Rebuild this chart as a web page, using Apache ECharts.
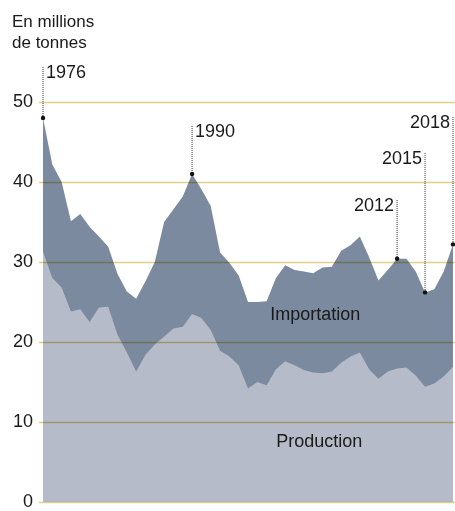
<!DOCTYPE html>
<html><head><meta charset="utf-8">
<script src="https://cdn.jsdelivr.net/npm/echarts@6/dist/echarts.min.js"></script>
<style>html,body{margin:0;padding:0;background:#fff}#c{width:455px;height:511px}</style>
</head><body><div id="c"></div>
<script>
// Data (millions of tonnes), one point per year
const years = [];
for (let y = 1974; y <= 2018; y++) years.push(String(y));
const total = [48.0, 42.2, 40.0, 35.1, 36.0, 34.4, 33.2, 31.9, 28.5, 26.3,
  25.4, 27.6, 30.0, 35.0, 36.6, 38.2, 41.0, 39.1, 37.0, 31.2,
  29.9, 28.3, 25.0, 25.0, 25.1, 28.0, 29.6, 29.0, 28.8, 28.6,
  29.3, 29.4, 31.4, 32.1, 33.2, 30.6, 27.7, 29.0, 30.4, 30.4,
  28.8, 26.2, 26.6, 28.8, 32.2];
const production = [31.3, 28.0, 26.8, 23.8, 24.1, 22.5, 24.3, 24.4, 20.9, 18.7,
  16.3, 18.4, 19.7, 20.7, 21.7, 21.9, 23.5, 23.0, 21.5, 18.9,
  18.2, 17.1, 14.2, 15.0, 14.6, 16.6, 17.6, 17.1, 16.5, 16.2,
  16.1, 16.3, 17.4, 18.2, 18.7, 16.6, 15.4, 16.3, 16.7, 16.8,
  15.8, 14.4, 14.8, 15.7, 16.9];
const yTicks = [0, 10, 20, 30, 40, 50];
const annotIndex = [0, 16, 38, 41, 44];
const annotLabels = ['1976', '1990', '2012', '2015', '2018'];
const areaLabels = ['Importation', 'Production'];

// Layout (pixels)
const annotTop = [67, 126, 200, 153, 117];
const annotSide = ['right', 'right', 'left', 'left', 'left'];
const FONT = "'Liberation Sans', Arial, sans-serif";

const chart = echarts.init(document.getElementById('c'));
chart.setOption({
  animation: false,
  grid: { left: 43, right: 2, top: 102, bottom: 7 },
  xAxis: {
    type: 'category', data: years, boundaryGap: false,
    axisLine: { show: false }, axisTick: { show: false }, axisLabel: { show: false },
    splitLine: { show: false }
  },
  yAxis: {
    type: 'value', min: yTicks[0], max: yTicks[yTicks.length - 1], interval: 10,
    axisLine: { show: false }, axisTick: { show: false },
    axisLabel: { color: '#1a1a1a', fontSize: 18, fontFamily: FONT, margin: 10 },
    splitLine: { show: false }
  },
  series: [
    { type: 'line', data: total, symbol: 'none', lineStyle: { width: 0 },
      areaStyle: { color: '#7b8a9e', opacity: 1 }, z: 2 },
    { type: 'line', data: production, symbol: 'none', lineStyle: { width: 0 },
      areaStyle: { color: '#b5bbc9', opacity: 1 }, z: 3 }
  ]
});

const g = [];
// gridlines drawn over the areas with a multiply blend
yTicks.forEach(v => {
  const py = Math.round(chart.convertToPixel({ yAxisIndex: 0 }, v)) + 0.5;
  g.push({ type: 'line', z: 15, silent: true,
    shape: { x1: 39, y1: py, x2: 455, y2: py },
    style: { stroke: '#e0d08c', lineWidth: 1.5, blend: 'multiply' } });
});
g.push({ type: 'text', left: 12, top: 12, z: 20,
  style: { text: 'En millions\nde tonnes', font: '17px ' + FONT, fill: '#1a1a1a', lineHeight: 21 } });
annotIndex.forEach((idx, k) => {
  const p = chart.convertToPixel({ xAxisIndex: 0, yAxisIndex: 0 }, [idx, total[idx]]);
  const top = annotTop[k];
  g.push({ type: 'line', z: 20, silent: true,
    shape: { x1: p[0], y1: top, x2: p[0], y2: p[1] },
    style: { stroke: '#333', lineWidth: 1, lineDash: [1, 1] } });
  g.push({ type: 'circle', z: 21, shape: { cx: p[0], cy: p[1], r: 2.2 }, style: { fill: '#111' } });
  const right = annotSide[k] === 'right';
  g.push({ type: 'text', z: 21, x: right ? p[0] + 3 : p[0] - 3, y: top - 3,
    style: { text: annotLabels[k], font: '18px ' + FONT, fill: '#1a1a1a',
      align: right ? 'left' : 'right', verticalAlign: 'top' } });
});
const lp1 = chart.convertToPixel({ xAxisIndex: 0, yAxisIndex: 0 }, [29, 23.4]);
const lp2 = chart.convertToPixel({ xAxisIndex: 0, yAxisIndex: 0 }, [29, 7.5]);
g.push({ type: 'text', z: 21, x: lp1[0] + 2, y: lp1[1],
  style: { text: areaLabels[0], font: '18px ' + FONT, fill: '#1a1a1a', align: 'center', verticalAlign: 'middle' } });
g.push({ type: 'text', z: 21, x: lp2[0] + 6, y: lp2[1],
  style: { text: areaLabels[1], font: '18px ' + FONT, fill: '#1a1a1a', align: 'center', verticalAlign: 'middle' } });
chart.setOption({ graphic: g });
</script></body></html>
